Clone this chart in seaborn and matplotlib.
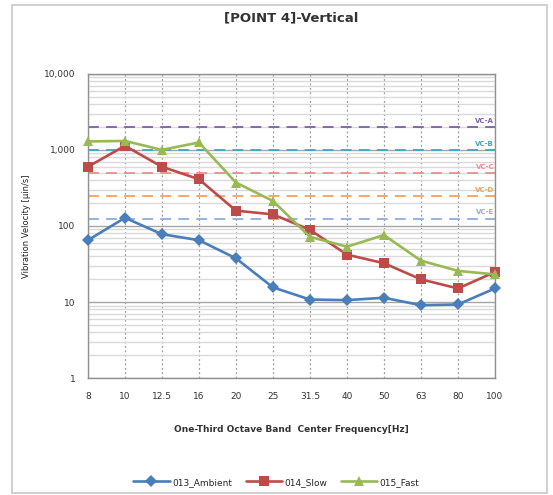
import numpy as np
import pandas as pd
import matplotlib
matplotlib.use("Agg")
import matplotlib.pyplot as plt
import seaborn as sns
from matplotlib.ticker import FixedLocator, FuncFormatter, LogLocator, NullFormatter

# one-third octave band centre frequencies
freqs = ["8", "10", "12.5", "16", "20", "25", "31.5", "40", "50", "63", "80", "100"]

ambient = [65, 128, 78, 65, 37.6, 15.6, 10.8, 10.6, 11.4, 9.1, 9.3, 15.1]
slow = [600, 1130, 600, 411, 159, 142, 89, 42, 32.4, 19.9, 15.1, 24.8]
fast = [1290, 1310, 1000, 1250, 372, 213, 72, 53.4, 76, 35, 25.7, 23.1]

series_names = ["013_Ambient", "014_Slow", "015_Fast"]

# vibration criteria lines
vc_names = ["VC-A", "VC-B", "VC-C", "VC-D", "VC-E"]
vc_values = [2000, 1000, 500, 250, 125]
vc_colors = ["#7F5FA8", "#3FA5BF", "#E8908E", "#F5A05A", "#8EAEDD"]

# long-form table for seaborn
df = pd.DataFrame({
    "pos": list(range(len(freqs))) * 3,
    "value": ambient + slow + fast,
    "series": np.repeat(series_names, len(freqs)),
})

sns.set_style("white")
plt.rcParams["font.family"] = ["DejaVu Sans"]

fig = plt.figure(figsize=(5.53, 4.95), dpi=100)
ax = fig.add_axes([0.159, 0.236, 0.736, 0.615])

# outer chart frame like the excel chart area
frame = plt.Rectangle((0.022, 0.004), 0.968, 0.986, transform=fig.transFigure,
                      fill=False, edgecolor="#c8c8c8", linewidth=1.2)
fig.add_artist(frame)

ax.set_yscale("log")
ax.set_ylim(1, 10000)
ax.set_xlim(0, len(freqs) - 1)

# grid
ax.yaxis.set_minor_locator(LogLocator(base=10, subs=np.arange(2, 10)))
ax.yaxis.set_minor_formatter(NullFormatter())
ax.grid(which="minor", axis="y", color="#dadada", linewidth=1.0)
ax.grid(which="major", axis="y", color="#a6a6a6", linewidth=1.0)
ax.xaxis.set_major_locator(FixedLocator(range(len(freqs))))
ax.grid(which="major", axis="x", color="#9a9a9a", linestyle=(0, (1.5, 2)), linewidth=0.9)
ax.set_axisbelow(True)

# criteria lines
for name, val, col in zip(vc_names, vc_values, vc_colors):
    ax.axhline(val, color=col, linestyle=(0, (6, 4)), linewidth=1.3, zorder=2)
    ax.text(len(freqs) - 1.02, val * 1.1, name, color=col, fontsize=5,
            ha="right", va="bottom", fontweight="bold")

palette = {"013_Ambient": "#4A7EBB", "014_Slow": "#BE4B48", "015_Fast": "#98B954"}
markers = {"013_Ambient": "D", "014_Slow": "s", "015_Fast": "^"}

sns.lineplot(data=df, x="pos", y="value", hue="series", style="series",
             palette=palette, markers=markers, dashes=False, linewidth=1.9,
             markersize=6.5, markeredgewidth=0, ax=ax, zorder=3, clip_on=False)

ax.set_xticks(range(len(freqs)))
ax.set_xticklabels(freqs)
ax.yaxis.set_major_formatter(FuncFormatter(lambda v, p: f"{v:,.0f}"))
ax.tick_params(axis="both", which="both", length=0, labelsize=6.5, colors="#333333")
ax.tick_params(axis="x", pad=10)
ax.tick_params(axis="y", pad=9)

for s in ax.spines.values():
    s.set_color("#909090")
    s.set_linewidth(1.0)

ax.set_xlabel("One-Third Octave Band  Center Frequency[Hz]", fontsize=6.5,
              fontweight="bold", color="#333333", labelpad=17)
ax.set_ylabel("Vibration Velocity [µin/s]", fontsize=6, color="#222222", labelpad=9)
ax.set_title("[POINT 4]-Vertical", fontsize=9.5, fontweight="bold",
             color="#333333", pad=38)

ax.legend_.remove()
handles, labels = ax.get_legend_handles_labels()
fig.legend(handles, labels, loc="center", bbox_to_anchor=(0.5, 0.026), ncol=3,
           frameon=False, fontsize=6.5, handlelength=4, columnspacing=1.5,
           handletextpad=0.3)

fig.savefig("out.png", dpi=100)
